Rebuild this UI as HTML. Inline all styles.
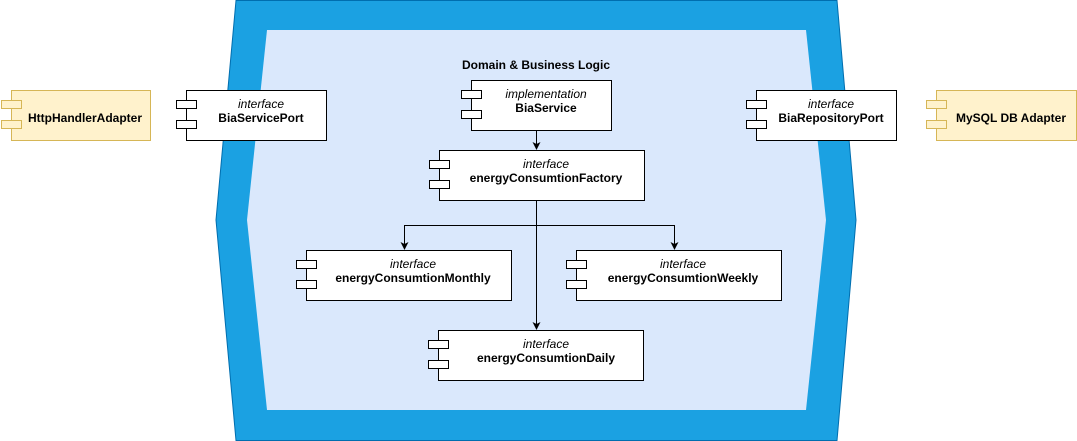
<!DOCTYPE html>
<html><head><meta charset="utf-8"><style>
html,body{margin:0;padding:0;background:#fff;width:1077px;height:441px;overflow:hidden}
svg{display:block;font-family:"Liberation Sans",Arial,sans-serif}
.b{font-weight:bold;font-size:12px}
.i{font-style:italic;font-size:12px}
</style></head><body>
<svg width="1077" height="441" viewBox="0 0 1077 441">
<polygon points="236,0.5 837,0.5 856,220 837,440.5 236,440.5 216,220" fill="#1ba1e2" stroke="#006eaf" stroke-width="1"/>
<polygon points="267,30 806,30 826,220 806,410 267,410 247,220" fill="#dae8fc"/>
<text x="536" y="69" text-anchor="middle" class="b">Domain &amp; Business Logic</text>
<g stroke="#000" stroke-width="1" fill="none">
<line x1="536.5" y1="130" x2="536.5" y2="144"/>
<line x1="536.5" y1="200" x2="536.5" y2="324"/>
<polyline points="404.5,244 404.5,225.5 674.5,225.5 674.5,244" />
</g>
<g fill="#000">
<path d="M532.5,142 L536.5,150 L540.5,142 L536.5,144 Z"/>
<path d="M532.5,322 L536.5,330 L540.5,322 L536.5,324 Z"/>
<path d="M400.5,242 L404.5,250 L408.5,242 L404.5,244 Z"/>
<path d="M670.5,242 L674.5,250 L678.5,242 L674.5,244 Z"/>
</g>
<g fill="#fff2cc" stroke="#d6b656">
<rect x="11.5" y="90.5" width="139" height="50"/><rect x="1.5" y="100.5" width="20" height="8"/><rect x="1.5" y="120.5" width="20" height="8"/>
<rect x="936.5" y="90.5" width="140" height="50"/><rect x="926.5" y="100.5" width="20" height="8"/><rect x="926.5" y="120.5" width="20" height="8"/>
</g>
<g fill="#fff" stroke="#000">
<rect x="186.5" y="90.5" width="140" height="50"/><rect x="176.5" y="100.5" width="20" height="8"/><rect x="176.5" y="120.5" width="20" height="8"/>
<rect x="756.5" y="90.5" width="140" height="50"/><rect x="746.5" y="100.5" width="20" height="8"/><rect x="746.5" y="120.5" width="20" height="8"/>
<rect x="471.5" y="80.5" width="140" height="50"/><rect x="461.5" y="90.5" width="20" height="8"/><rect x="461.5" y="110.5" width="20" height="8"/>
<rect x="439.5" y="150.5" width="205" height="50"/><rect x="429.5" y="160.5" width="20" height="8"/><rect x="429.5" y="180.5" width="20" height="8"/>
<rect x="306.5" y="250.5" width="205" height="50"/><rect x="296.5" y="260.5" width="20" height="8"/><rect x="296.5" y="280.5" width="20" height="8"/>
<rect x="576.5" y="250.5" width="205" height="50"/><rect x="566.5" y="260.5" width="20" height="8"/><rect x="566.5" y="280.5" width="20" height="8"/>
<rect x="438.5" y="330.5" width="205" height="50"/><rect x="428.5" y="340.5" width="20" height="8"/><rect x="428.5" y="360.5" width="20" height="8"/>
</g>
<g text-anchor="middle">
<text x="85" y="122" class="b">HttpHandlerAdapter</text>
<text x="1011" y="122" class="b">MySQL DB Adapter</text>
<text x="261" y="108" class="i">interface</text><text x="261" y="122" class="b">BiaServicePort</text>
<text x="831" y="108" class="i">interface</text><text x="831" y="122" class="b">BiaRepositoryPort</text>
<text x="546" y="98" class="i">implementation</text><text x="546" y="112" class="b">BiaService</text>
<text x="546" y="168" class="i">interface</text><text x="546" y="182" class="b">energyConsumtionFactory</text>
<text x="413" y="268" class="i">interface</text><text x="413" y="282" class="b">energyConsumtionMonthly</text>
<text x="683" y="268" class="i">interface</text><text x="683" y="282" class="b">energyConsumtionWeekly</text>
<text x="546" y="348" class="i">interface</text><text x="546" y="362" class="b">energyConsumtionDaily</text>
</g>
</svg>
</body></html>
